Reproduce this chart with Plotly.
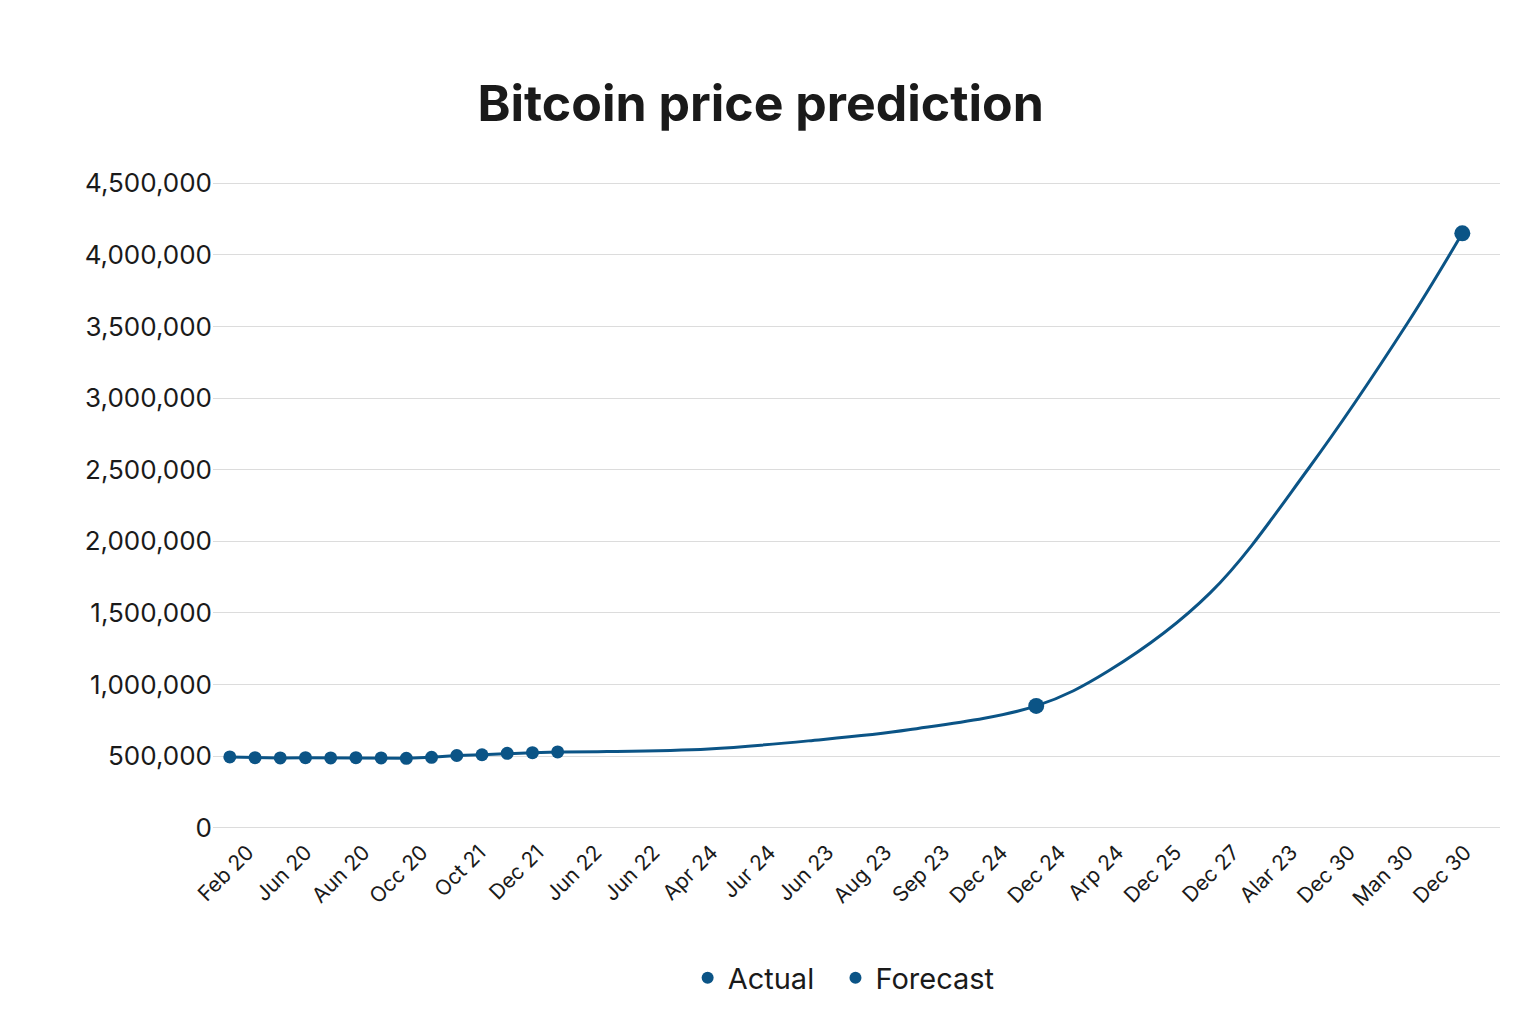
import plotly.graph_objects as go

labels = ["Feb 20", "Jun 20", "Aun 20", "Occ 20", "Oct 21", "Dec 21", "Jun 22", "Jun 22",
          "Apr 24", "Jur 24", "Jun 23", "Aug 23", "Sep 23", "Dec 24", "Dec 24", "Arp 24",
          "Dec 25", "Dec 27", "Alar 23", "Dec 30", "Man 30", "Dec 30"]

# x in tick units (tick i = label i)
ax = [-0.31 + 0.435 * i for i in range(14)]
ay = [495000, 490000, 488000, 490000, 488000, 490000, 488000, 485000, 492000,
      505000, 510000, 520000, 525000, 530000]

fx = [5.345, 6.2, 7.95, 9.67, 11.4, 13.6, 14.85, 16.6, 18.3, 20.0, 20.95]
fy = [530000, 532000, 551000, 607000, 684000, 851000, 1096000, 1640000, 2510000, 3520000, 4150000]

color = "#0b5486"
fig = go.Figure()
fig.add_trace(go.Scatter(x=ax, y=ay, mode="lines", line=dict(color=color, width=3),
                         showlegend=False, hoverinfo="skip"))
fig.add_trace(go.Scatter(x=fx, y=fy, mode="lines", line=dict(color=color, width=3, shape="spline"),
                         showlegend=False, hoverinfo="skip"))
fig.add_trace(go.Scatter(x=ax, y=ay, mode="markers", name="Actual  ",
                         marker=dict(color=color, size=13)))
fig.add_trace(go.Scatter(x=[fx[5], fx[-1]], y=[fy[5], fy[-1]], mode="markers", name="Forecast",
                         marker=dict(color=color, size=16)))

fig.update_layout(
    width=1536, height=1024,
    paper_bgcolor="white", plot_bgcolor="white",
    font=dict(family="Inter, Open Sans, sans-serif", color="#1a1a1a"),
    title=dict(text="<b>Bitcoin price prediction</b>", x=0.49, xanchor="center",
               y=0.907, yanchor="middle", font=dict(size=50, color="#1a1a1a")),
    margin=dict(l=205, r=44, t=168, b=197, autoexpand=False),
    xaxis=dict(range=[-0.6, 21.6], tickvals=list(range(len(labels))), ticktext=labels,
               tickangle=-45, tickfont=dict(size=21), showgrid=False, zeroline=False,
               automargin=False),
    yaxis=dict(range=[-50000, 4550000], tickvals=list(range(0, 4500001, 500000)),
               tickformat=",", tickfont=dict(size=26), gridcolor="#dcdcdc",
               zeroline=False, ticksuffix=" ", automargin=False),
    legend=dict(orientation="h", x=0.49, xanchor="center", y=-0.217, yanchor="middle",
                font=dict(size=29), itemsizing="constant"),
)
fig.write_html("out.html")
